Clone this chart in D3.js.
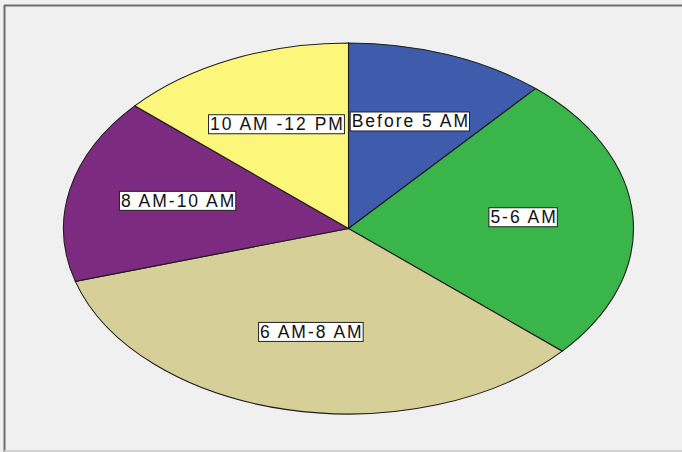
<!DOCTYPE html>
<html>
<head>
<meta charset="utf-8">
<script src="https://cdn.jsdelivr.net/npm/d3@7"></script>
<style>
  body { margin: 0; background: #fff; }
  svg { display: block; font-family: Arial, "Liberation Sans", sans-serif; }
</style>
</head>
<body>
<div id="chart"></div>
<script>
// slice data, clockwise from 12 o'clock
var categories = ["Before 5 AM", "5-6 AM", "6 AM-8 AM", "8 AM-10 AM", "10 AM -12 PM"];
var percents = [11.4, 25.1, 33.9, 16.1, 13.5];
var colors = ["#3f5bab", "#39b54a", "#d6cf98", "#7c2b80", "#fcf77b"];

var width = 682, height = 452;
var cx = 348.5, cy = 228.5, rx = 285, ry = 185.5;
var spacing = 2;

var svg = d3.select("#chart").append("svg")
    .attr("width", width)
    .attr("height", height);

// panel background + frame
svg.append("rect")
    .attr("x", 0).attr("y", 0).attr("width", width).attr("height", height)
    .attr("fill", "#f0f0f0");
svg.append("line").attr("x1", 4).attr("x2", 682).attr("y1", 5.5).attr("y2", 5.5)
    .attr("stroke", "#6e6e6e").attr("stroke-width", 2);
svg.append("line").attr("x1", 4.5).attr("x2", 4.5).attr("y1", 5).attr("y2", 452)
    .attr("stroke", "#6e6e6e").attr("stroke-width", 2);
svg.append("line").attr("x1", 4).attr("x2", 682).attr("y1", 451).attr("y2", 451)
    .attr("stroke", "#c8c8c8").attr("stroke-width", 1.5);

var data = categories.map(function(c, i) { return {name: c, value: percents[i], color: colors[i]}; });

var pie = d3.pie().sort(null).value(function(d) { return d.value; });
var arcs = pie(data);

var arc = d3.arc().innerRadius(0).outerRadius(rx);
// unit-radius centroid, stretched separately in x and y for the labels
var labelArc = d3.arc().innerRadius(1).outerRadius(1);
var lx = 175, ly = 110, lyOff = -4;

// pie drawn as circle then squashed into an ellipse
var g = svg.append("g")
    .attr("transform", "translate(" + cx + "," + cy + ") scale(1," + (ry / rx) + ")");

g.selectAll("path")
    .data(arcs)
    .enter().append("path")
    .attr("d", arc)
    .attr("fill", function(d) { return d.data.color; })
    .attr("stroke", "#1e1e1e")
    .attr("stroke-width", 1.1)
    .attr("vector-effect", "non-scaling-stroke");

// labels with white boxes
var lg = svg.append("g");
arcs.forEach(function(d) {
    var c = labelArc.centroid(d);
    var x = cx + c[0] * lx, y = cy + c[1] * ly + lyOff;
    var t = lg.append("text")
        .attr("x", x + spacing / 2).attr("y", y)
        .attr("text-anchor", "middle")
        .attr("dominant-baseline", "central")
        .attr("font-size", 17.5)
        .attr("letter-spacing", spacing)
        .attr("fill", "#111")
        .text(d.data.name);
    var bb = t.node().getBBox();
    lg.insert("rect", "text")
        .attr("x", bb.x - 1.5).attr("y", bb.y + 0.5)
        .attr("width", bb.width - spacing + 3).attr("height", bb.height - 1)
        .attr("fill", "#fff")
        .attr("stroke", "#222")
        .attr("stroke-width", 1);
});
</script>
</body>
</html>
